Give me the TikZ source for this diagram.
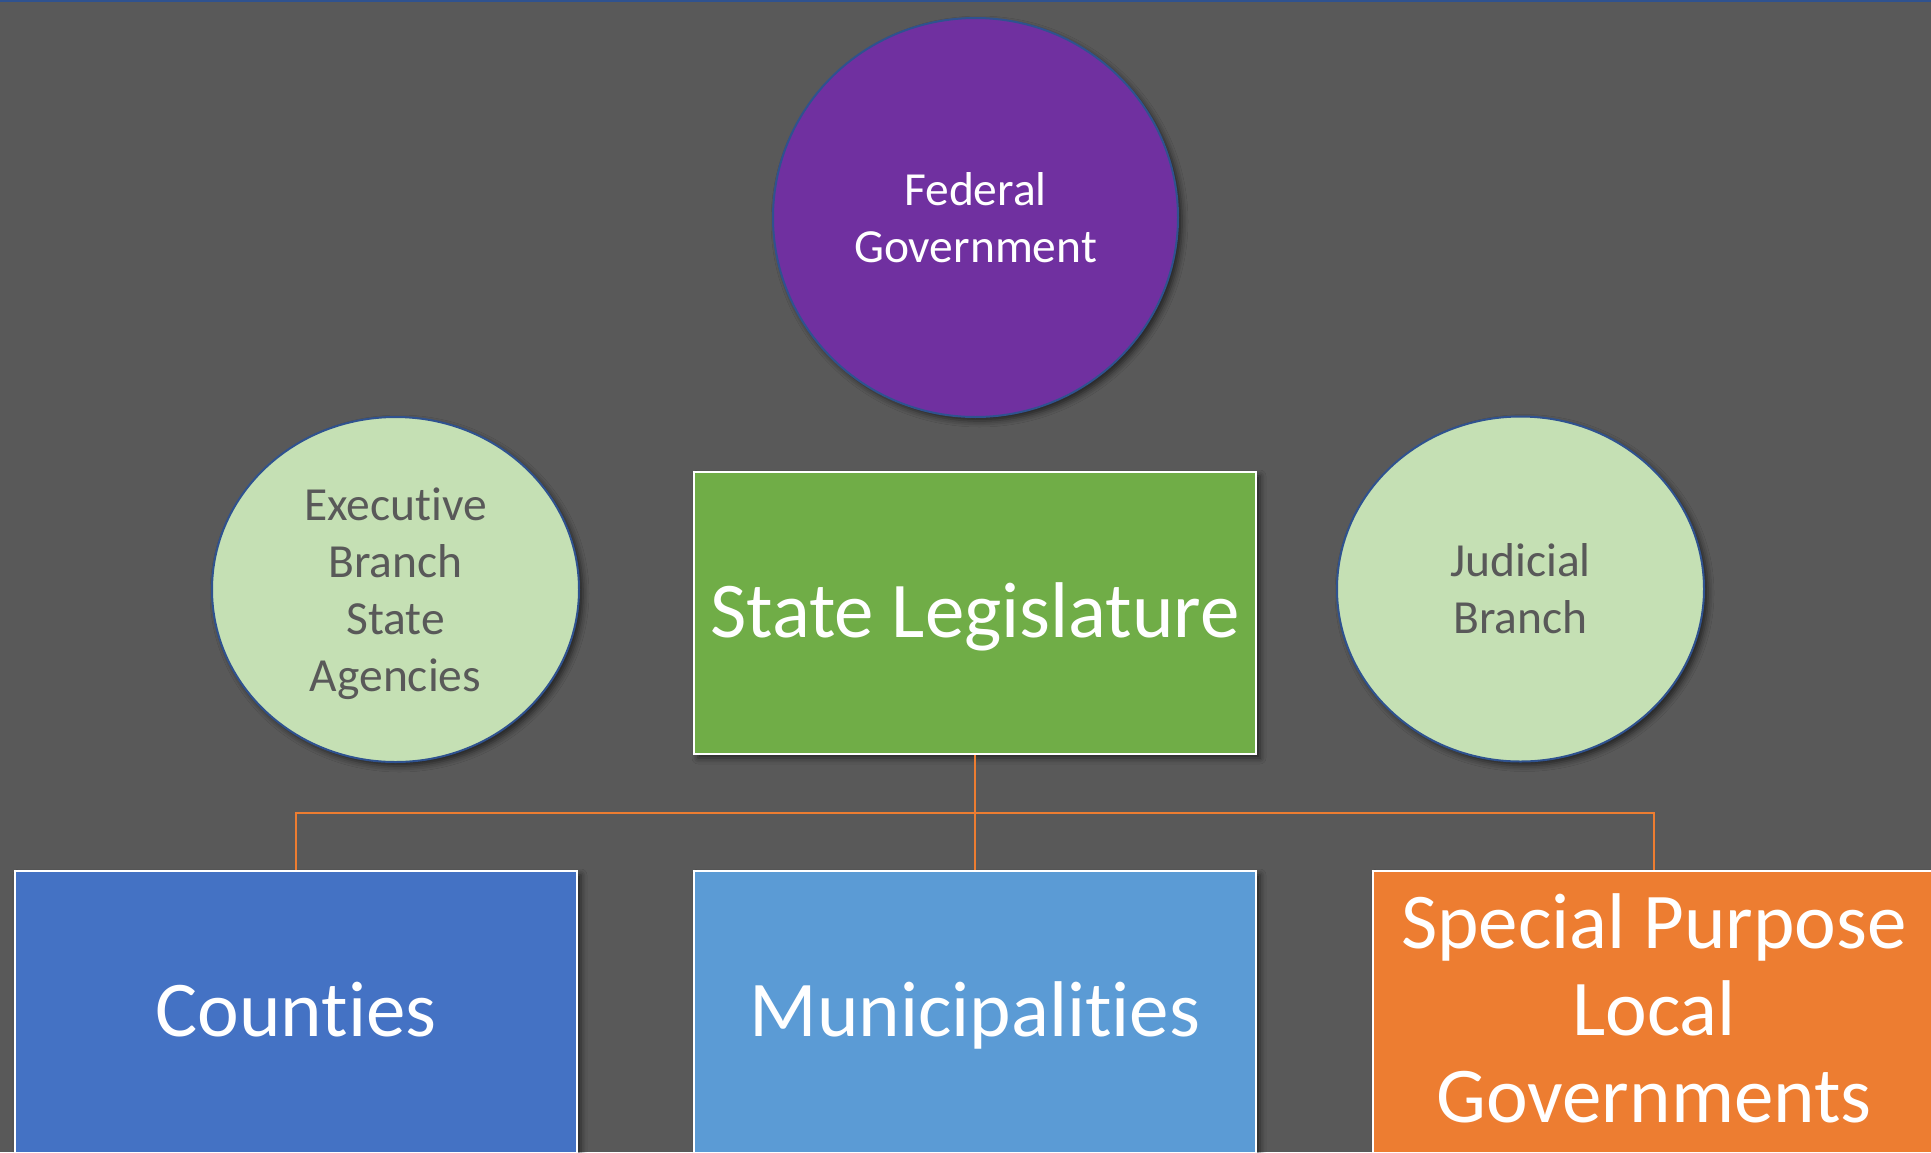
\documentclass[tikz,border=0pt]{standalone}
\usepackage{fontspec}
\setmainfont{Carlito}[Ligatures={NoCommon}]
\usetikzlibrary{shapes.geometric,shadows.blur}
\definecolor{bg}{HTML}{595959}
\definecolor{fedpurple}{HTML}{7030A0}
\definecolor{lgreen}{HTML}{C5E0B4}
\definecolor{leggreen}{HTML}{70AD47}
\definecolor{ctyblue}{HTML}{4472C4}
\definecolor{munblue}{HTML}{5B9BD5}
\definecolor{splorange}{HTML}{ED7D31}
\definecolor{ovalline}{HTML}{2F528F}
\definecolor{txtgray}{HTML}{595959}
\definecolor{linkc}{HTML}{ED7D31}
\begin{document}
\begin{tikzpicture}[x=1pt,y=-1pt,
  shade/.style={blur shadow={shadow xshift=4pt,shadow yshift=-4pt,shadow blur radius=6pt,shadow opacity=60}},
  box/.style={rectangle,draw=white,line width=2.5pt,minimum width=562pt,minimum height=282pt,
    inner sep=0pt,text=white,font=\fontsize{79}{87}\selectfont,align=center,shade},
  oneline/.style={text height=56pt,text depth=8pt},
  oval/.style={ellipse,draw=ovalline,line width=2pt,inner sep=0pt,
    font=\fontsize{47.5}{57}\selectfont,align=center,shade},
  link/.style={draw=linkc,line width=2.5pt}]
\fill[bg] (0,0) rectangle (1931,1152);
\useasboundingbox (0,0) rectangle (1931,1152);
\draw[ovalline,line width=3pt] (0,0) -- (1931,0);

\node[oval,fill=fedpurple,text=white,minimum width=405pt,minimum height=399pt] (fed) at (975.5,217.5) {Federal\\Government};
\node[oval,fill=lgreen,text=txtgray,minimum width=367pt,minimum height=345pt] (exec) at (395.5,589.5) {\rule{0pt}{41pt}Executive\\Branch\\State\\Agencies};
\node[oval,fill=lgreen,text=txtgray,minimum width=367pt,minimum height=345pt] (jud) at (1520.5,589) {Judicial\\Branch};

\node[box,oneline,fill=leggreen] (leg) at (975,613) {State Legislature};
\node[box,oneline,fill=ctyblue] (cty) at (296,1012) {Counties};
\node[box,oneline,fill=munblue] (mun) at (975,1012) {Municipalities};
\node[box,fill=splorange] (spl) at (1654,1012) {Special Purpose\\Local\\Governments\rule[-8pt]{0pt}{8pt}};

\coordinate (bus) at (975,813);
\draw[link] (leg.south) -- (bus);
\draw[link] (bus) -- (mun.north);
\draw[link] (cty.north) |- (bus) -| (spl.north);
\end{tikzpicture}
\end{document}
